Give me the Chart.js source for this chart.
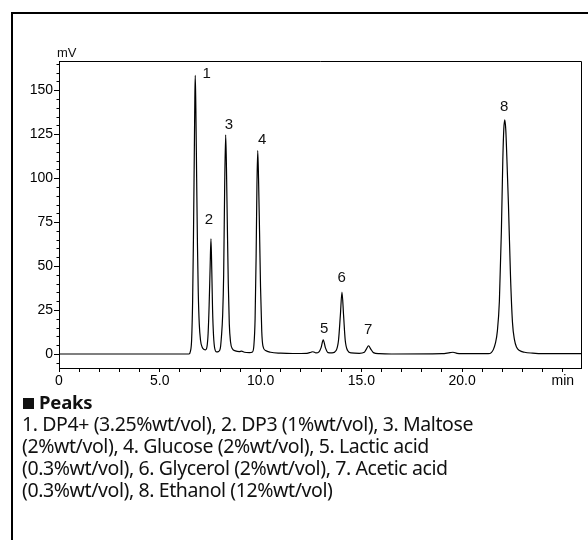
<!DOCTYPE html>
<html>
<head>
<meta charset="utf-8">
<script src="https://cdn.jsdelivr.net/npm/chart.js@4.4.1/dist/chart.umd.min.js"></script>
<style>
  html, body { margin: 0; padding: 0; background: #fff; }
  body { width: 588px; height: 540px; position: relative; overflow: hidden; }
  #frame { position: absolute; left: 11px; top: 12px; width: 700px; height: 700px;
           border-left: 2px solid #000; border-top: 2px solid #000; }
  #wrap { position: absolute; left: 0; top: 0; width: 588px; height: 395px; }
  #notes { position: absolute; left: 22px; top: 391px; font-family: "Noto Sans", "Open Sans", sans-serif;
           font-size: 19.5px; line-height: 22px; color: #111; white-space: nowrap; letter-spacing: -0.4px; }
  #notes b { font-size: 18.5px; letter-spacing: -0.2px; }
  #notes i { display: inline-block; width: 11px; height: 11px; background: #111; margin: 0 5px 0 1px; }
</style>
</head>
<body>
<div id="frame"></div>
<div id="wrap"><canvas id="chart" width="588" height="395"></canvas></div>
<div id="notes">
  <b><i></i>Peaks</b><br>
  1. DP4+ (3.25%wt/vol), 2. DP3 (1%wt/vol), 3. Maltose<br>
  (2%wt/vol), 4. Glucose (2%wt/vol), 5. Lactic acid<br>
  (0.3%wt/vol), 6. Glycerol (2%wt/vol), 7. Acetic acid<br>
  (0.3%wt/vol), 8. Ethanol (12%wt/vol)
</div>
<script>
// retention time (min) and detector signal (mV)
const time = [
  0, 5.2, 6.45, 6.52, 6.58, 6.63, 6.67, 6.71, 6.74, 6.76, 6.79, 6.83, 6.87, 6.91, 6.96, 7.02, 7.10, 7.20, 7.27,
  7.34, 7.40, 7.45, 7.50, 7.54, 7.58, 7.62, 7.67, 7.73, 7.82, 7.92,
  8.00, 8.06, 8.12, 8.17, 8.22, 8.27, 8.31, 8.35, 8.40, 8.45, 8.51, 8.60, 8.75, 8.95, 9.06, 9.20, 9.45,
  9.60, 9.67, 9.73, 9.78, 9.82, 9.86, 9.90, 9.95, 10.00, 10.06, 10.12, 10.25, 10.5, 11.0, 11.6, 12.3,
  12.5, 12.6, 12.75, 12.9, 13.0, 13.11, 13.22, 13.35,
  13.55, 13.75, 13.87, 13.96, 14.04, 14.12, 14.20, 14.32, 14.5, 14.9,
  15.15, 15.25, 15.36, 15.47, 15.6, 15.9, 16.5, 19.0, 19.4, 19.55, 19.75, 20.3,
  21.3, 21.45, 21.55, 21.65, 21.75, 21.85, 21.95, 22.02, 22.07, 22.12, 22.17, 22.22, 22.30, 22.40, 22.50,
  22.60, 22.70, 22.85, 23.1, 23.5, 24.0, 25.9
];
const signal = [
  0, 0, 0, 1.5, 8, 30, 65, 110, 145, 158.5, 140, 100, 62, 35, 17, 8, 4, 2.6, 2.4,
  4, 12, 28, 50, 65.5, 48, 25, 10, 3, 1.2, 1.5,
  3, 10, 22, 45, 95, 124.6, 105, 75, 40, 17, 7, 3, 1.8, 1.4, 1.6, 1.0, 0.8,
  1.2, 5, 20, 55, 95, 115.7, 100, 70, 38, 13, 4.5, 2, 1, 0.5, 0.3, 0.4,
  1, 1.3, 0.6, 1.2, 3.5, 8, 3.5, 0.8,
  0.6, 2, 8, 22, 35.2, 22, 8, 2, 0.6, 0.4,
  1, 2.8, 4.7, 2.8, 0.8, 0.2, 0, 0.2, 0.8, 1, 0.4, 0.2,
  0.2, 0.8, 2.5, 6, 13, 30, 70, 110, 128, 133.1, 127, 112, 85, 45, 18,
  8, 4, 2, 1, 0.5, 0.2, 0.2
];

const peakLabels = ['1', '2', '3', '4', '5', '6', '7', '8'];
const labelTime  = [7.33, 7.44, 8.43, 10.08, 13.16, 14.02, 15.34, 22.09];
const labelValue = [159.3, 76.3, 130.3, 121.8, 14.4, 43.5, 13.8, 140.3];

const xTicks = [0,1,2,3,4,5,6,7,8,9,10,11,12,13,14,15,16,17,18,19,20,21,22,23,24,25];
const xTickText = {0: '0', 5: '5.0', 10: '10.0', 15: '15.0', 20: '20.0', 25: 'min'};
const yTicks = [0, 25, 50, 75, 100, 125, 150];
const yMinor = [-5,5,10,15,20,30,35,40,45,55,60,65,70,80,85,90,95,105,110,115,120,130,135,140,145,155,160,165];

const tickFont = { family: 'Liberation Sans, Arial, sans-serif', size: 14 };

const extras = {
  id: 'extras',
  afterDraw(chart) {
    const ctx = chart.ctx;
    const a = chart.chartArea;
    const xs = chart.scales.x, ys = chart.scales.y;
    ctx.save();
    ctx.strokeStyle = '#000';
    ctx.lineWidth = 1;
    ctx.beginPath();
    ctx.moveTo(a.left, a.top + 0.5);
    ctx.lineTo(a.right + 0.5, a.top + 0.5);
    ctx.lineTo(a.right + 0.5, a.bottom);
    ctx.stroke();
    // minor y ticks
    ctx.beginPath();
    yMinor.forEach(v => {
      const py = Math.round(ys.getPixelForValue(v)) + 0.5;
      ctx.moveTo(a.left - 2.5, py);
      ctx.lineTo(a.left, py);
    });
    ctx.stroke();
    ctx.fillStyle = '#111';
    ctx.font = '13px "Liberation Sans", Arial, sans-serif';
    ctx.textAlign = 'left';
    ctx.textBaseline = 'alphabetic';
    ctx.fillText('mV', a.left - 2, a.top - 4);
    ctx.font = '15px "Liberation Sans", Arial, sans-serif';
    ctx.textAlign = 'center';
    ctx.textBaseline = 'middle';
    peakLabels.forEach((t, i) => {
      ctx.fillText(t, xs.getPixelForValue(labelTime[i]), ys.getPixelForValue(labelValue[i]));
    });
    ctx.restore();
  }
};

new Chart(document.getElementById('chart'), {
  type: 'line',
  data: {
    datasets: [{
      data: time.map((t, i) => ({ x: t, y: signal[i] })),
      borderColor: '#000',
      borderWidth: 1.2,
      pointRadius: 0,
      cubicInterpolationMode: 'monotone',
      fill: false
    }]
  },
  options: {
    responsive: false,
    animation: false,
    events: [],
    layout: { padding: { top: 61, right: 7, left: 0, bottom: 0 } },
    plugins: { legend: { display: false }, tooltip: { enabled: false } },
    scales: {
      x: {
        type: 'linear',
        min: 0,
        max: 25.9,
        afterBuildTicks(scale) { scale.ticks = xTicks.map(v => ({ value: v })); },
        afterFit(scale) { scale.height = 27; },
        grid: { drawOnChartArea: false, tickLength: 4, tickColor: '#000' },
        border: { color: '#000', width: 1 },
        ticks: {
          autoSkip: false, maxRotation: 0, padding: 1, color: '#000', font: tickFont,
          callback: v => xTickText[v] !== undefined ? xTickText[v] : ''
        }
      },
      y: {
        min: -7.95,
        max: 166.6,
        afterBuildTicks(scale) { scale.ticks = yTicks.map(v => ({ value: v })); },
        afterFit(scale) { scale.width = 59; },
        grid: { drawOnChartArea: false, tickLength: 5, tickColor: '#000' },
        border: { color: '#000', width: 1 },
        ticks: { padding: 1, color: '#000', font: tickFont }
      }
    }
  },
  plugins: [extras]
});
</script>
</body>
</html>
